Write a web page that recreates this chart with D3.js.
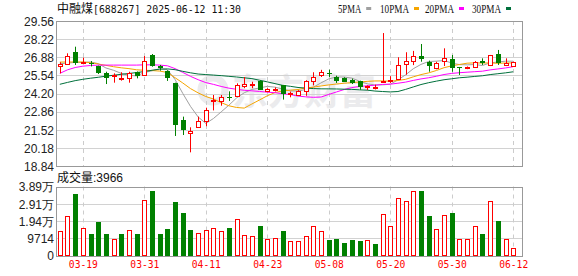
<!DOCTYPE html>
<html>
<head>
<meta charset="utf-8">
<script src="https://cdn.jsdelivr.net/npm/d3@7"></script>
<style>
  body { margin: 0; background: #fff; }
  svg { display: block; }
</style>
</head>
<body>
<svg></svg>
<script>
// K线数据 (读自图片)
var dates = ["03-14","03-17","03-18","03-19","03-20","03-21","03-24","03-25","03-26","03-27","03-28","03-31",
  "04-01","04-02","04-03","04-07","04-08","04-09","04-10","04-11","04-14","04-15","04-16","04-17","04-18",
  "04-21","04-22","04-23","04-24","04-25","04-28","04-29","04-30","05-06","05-07","05-08","05-09","05-12",
  "05-13","05-14","05-15","05-16","05-19","05-20","05-21","05-22","05-23","05-26","05-27","05-28","05-29",
  "05-30","06-03","06-04","06-05","06-06","06-09","06-10","06-11","06-12"];

var opens  = [26.25,26.36,27.27,26.45,26.45,26.23,25.74,25.50,25.30,25.32,25.81,25.57,27.05,26.25,25.89,25.00,
  22.24,21.30,21.75,22.17,23.63,23.67,23.95,24.04,24.72,24.86,25.10,24.40,24.45,24.80,24.15,24.07,24.36,25.10,
  25.55,25.75,25.40,25.38,25.22,25.10,24.66,24.65,25.06,25.15,25.30,26.38,26.63,26.99,26.55,26.06,26.63,26.75,
  26.16,26.06,26.18,26.63,26.31,27.12,26.31,26.26];
var highs  = [26.51,27.17,27.66,26.85,26.60,26.26,25.81,25.69,25.77,25.81,25.83,26.97,27.12,26.31,25.92,25.00,
  22.49,21.70,22.49,23.15,24.09,24.09,24.36,24.95,25.42,25.07,25.18,24.59,24.65,24.83,24.34,24.45,25.18,25.77,
  25.95,25.96,25.52,25.40,25.30,25.15,24.80,24.85,28.67,25.48,26.88,27.25,27.35,27.86,26.63,26.55,27.54,27.05,
  26.16,26.20,26.60,26.80,27.05,27.42,26.80,26.55];
var lows   = [25.69,26.31,26.31,26.43,26.20,25.64,24.90,25.00,25.15,25.00,25.32,25.50,26.18,25.89,25.13,21.06,
  21.13,19.85,21.70,21.78,22.95,23.30,23.65,23.97,24.59,24.59,24.48,24.29,24.35,23.75,23.92,24.02,24.03,24.80,
  25.42,25.42,24.98,25.05,24.90,24.48,24.45,24.50,24.98,24.98,25.22,25.59,26.30,26.55,25.81,25.99,26.23,25.81,
  25.57,26.00,26.12,26.31,26.23,26.31,26.23,26.26];
var closes = [26.36,26.97,26.43,26.50,26.40,25.74,25.37,25.57,25.35,25.69,25.52,26.60,26.23,26.10,25.37,21.87,
  21.48,21.44,22.17,22.98,23.70,23.92,23.90,24.85,24.90,24.93,24.46,24.50,24.55,24.20,24.24,24.41,25.10,25.40,
  25.79,25.70,25.12,25.08,24.98,24.68,24.72,24.70,25.13,25.20,26.29,26.58,26.96,26.73,26.26,26.43,26.80,26.06,
  26.12,26.18,26.55,26.43,27.05,26.43,26.48,26.55];
var volumes = [13600,22100,34800,15700,11900,18900,11900,9450,11900,14600,11900,31000,36300,11900,14750,30100,
  24000,14200,12900,14600,15700,13600,15300,20800,11700,11150,16450,9450,10000,13600,7950,7950,11150,16800,
  14000,8500,9070,6800,8500,8100,8500,6250,23300,16450,32150,30600,36300,36300,22100,14750,22700,24000,9450,
  9450,16450,11900,30600,19300,9070,3966];

// 均线起始段 (窗口未满之前, 读自图片)
var ma5Head  = [26.40,26.45,26.50,26.50];
var ma10Head = [26.52,26.53,26.53,26.53,26.48,26.38,26.28,26.18,26.10];
var ma20Head = [25.69,25.95,26.12,26.22,26.27,26.30,26.30,26.30,26.30,26.30,26.30,26.32,26.32,26.30,26.25,
  26.04,25.76,25.47,25.22];
var ma30Head = [24.88,25.02,25.15,25.25,25.33,25.40,25.48,25.55,25.62,25.68,25.75,25.82,25.92,26.00,26.02,
  25.96,25.84,25.73,25.64,25.60,25.56,25.52,25.47,25.42,25.36,25.30,25.18,25.06,24.93];

var priceTicks = [29.56, 28.22, 26.88, 25.54, 24.20, 22.86, 21.52, 20.18, 18.84];
var volTicks = [0, 9714, 19428, 29142, 38856];
var volTickLabels = ["0", "9714", "1.94万", "2.91万", "3.89万"];
var dateTicks = ["03-19","03-31","04-11","04-23","05-08","05-20","05-30","06-12"];
var maPeriods = [5, 10, 20, 30];
var maHeads = [ma5Head, ma10Head, ma20Head, ma30Head];
var maColors = ["#a0a0a0", "#f5a500", "#ff00ff", "#00703c"];

var width = 578, height = 276;
var left = 56, right = 522;
var pTop = 21, pBottom = 166, vTop = 186.5, vBottom = 255.5;
var red = "#ff0000", green = "#008000";

var svg = d3.select("svg").attr("width", width).attr("height", height);

var x = d3.scalePoint().domain(dates).range([59.8, 513.2]);
var y = d3.scaleLinear().domain([18.84, 29.56]).range([pBottom, pTop]);
var yv = d3.scaleLinear().domain([0, 38856]).range([vBottom, vTop]);

function px(v) { return Math.round(v) + 0.5; }

// 水印
var wm = svg.append("g").attr("fill", "#ebebed");
wm.append("circle").attr("cx", 213).attr("cy", 90).attr("r", 12)
  .attr("fill", "none").attr("stroke", "#ebebed").attr("stroke-width", 7);
wm.append("text").attr("x", 232).attr("y", 105)
  .attr("font-family", "Noto Sans CJK SC").attr("font-weight", "bold")
  .attr("font-size", 36).text("东方财富");

// 网格
var grid = svg.append("g");
grid.selectAll("line.h").data(priceTicks.slice(1, -1)).join("line")
  .attr("x1", left).attr("x2", right)
  .attr("y1", function (d) { return px(y(d)); })
  .attr("y2", function (d) { return px(y(d)); })
  .attr("stroke", "#d2d2d2");
grid.selectAll("line.hv").data(volTicks.slice(1, -1)).join("line")
  .attr("x1", left).attr("x2", right)
  .attr("y1", function (d) { return px(yv(d)); })
  .attr("y2", function (d) { return px(yv(d)); })
  .attr("stroke", "#d2d2d2");
[[pTop, pBottom], [vTop, vBottom]].forEach(function (r) {
  grid.append("g").selectAll("line").data(dateTicks).join("line")
    .attr("x1", function (d) { return px(x(d)); })
    .attr("x2", function (d) { return px(x(d)); })
    .attr("y1", r[0]).attr("y2", r[1])
    .attr("stroke", "#cccccc").attr("stroke-dasharray", "4,4");
});

// 均线
var line = d3.line()
  .x(function (d, i) { return x(dates[i]); })
  .y(function (d) { return y(d); });
maPeriods.forEach(function (n, k) {
  var vals = closes.map(function (c, i) {
    return i < n - 1 ? maHeads[k][i] : d3.mean(closes.slice(i - n + 1, i + 1));
  });
  svg.append("path").datum(vals).attr("d", line)
    .attr("fill", "none").attr("stroke", maColors[k]).attr("stroke-width", 1);
});

// K线
var idx = d3.range(dates.length);
var candles = svg.append("g").selectAll("g").data(idx).join("g");
function isUp(i) { return closes[i] >= opens[i]; }
candles.append("line")
  .attr("x1", function (i) { return Math.round(x(dates[i])) + 0.5; })
  .attr("x2", function (i) { return Math.round(x(dates[i])) + 0.5; })
  .attr("y1", function (i) { return y(highs[i]); })
  .attr("y2", function (i) { return y(lows[i]); })
  .attr("stroke", function (i) { return isUp(i) ? red : green; });
candles.append("rect")
  .attr("x", function (i) { return Math.round(x(dates[i])) - (isUp(i) ? 1.5 : 2); })
  .attr("width", function (i) { return isUp(i) ? 4 : 5; })
  .attr("y", function (i) {
    var t = Math.round(y(Math.max(opens[i], closes[i])));
    return isUp(i) ? t + 0.5 : t;
  })
  .attr("height", function (i) {
    var t = Math.round(y(Math.max(opens[i], closes[i])));
    var b = Math.round(y(Math.min(opens[i], closes[i])));
    return Math.max(b - t, 1);
  })
  .attr("fill", function (i) { return isUp(i) ? "#fff" : green; })
  .attr("stroke", function (i) { return isUp(i) ? red : "none"; });

// 成交量
function volUp(i) { return i === 0 ? closes[0] >= opens[0] : closes[i] >= closes[i - 1]; }
svg.append("g").selectAll("rect").data(idx).join("rect")
  .attr("x", function (i) { return Math.round(x(dates[i])) - (volUp(i) ? 1.5 : 2); })
  .attr("width", function (i) { return volUp(i) ? 4 : 5; })
  .attr("y", function (i) { return Math.round(yv(volumes[i])) + (volUp(i) ? 0.5 : 0); })
  .attr("height", function (i) { return Math.round(vBottom) - Math.round(yv(volumes[i])) - (volUp(i) ? 1 : 0); })
  .attr("fill", function (i) { return volUp(i) ? "#fff" : green; })
  .attr("stroke", function (i) { return volUp(i) ? red : "none"; });

// 边框
[[pTop, pBottom], [vTop, vBottom]].forEach(function (r) {
  svg.append("rect").attr("x", left + 0.5).attr("y", Math.round(r[0]) + 0.5)
    .attr("width", right - left).attr("height", Math.round(r[1]) - Math.round(r[0]))
    .attr("fill", "none").attr("stroke", "#999");
});

// 坐标轴
var yAxis = svg.append("g").attr("transform", "translate(" + (left - 2) + ",0)")
  .call(d3.axisLeft(y).tickValues(priceTicks).tickSize(0).tickFormat(d3.format(".2f")));
var vAxis = svg.append("g").attr("transform", "translate(" + (left - 2) + ",0)")
  .call(d3.axisLeft(yv).tickValues(volTicks).tickSize(0)
    .tickFormat(function (d, i) { return volTickLabels[i]; }));
[yAxis, vAxis].forEach(function (g) {
  g.select(".domain").remove();
  g.selectAll("text").attr("font-family", "Liberation Sans, Arial, sans-serif")
    .attr("font-size", 12).attr("fill", "#222").attr("x", 0).attr("dy", "0.36em");
});

var xAxis = svg.append("g").attr("transform", "translate(0," + 258 + ")")
  .call(d3.axisBottom(x).tickValues(dateTicks).tickSize(0));
xAxis.select(".domain").remove();
xAxis.selectAll("text").attr("font-family", "DejaVu Sans Mono, monospace")
  .attr("font-size", 11).attr("fill", red).attr("y", 0).attr("dy", "0.95em")
  .attr("textLength", 29).attr("lengthAdjust", "spacingAndGlyphs");

// 标题
var title = svg.append("text").attr("x", 57).attr("y", 13).attr("fill", "#111");
title.append("tspan").attr("font-family", "Noto Sans CJK SC").attr("font-size", 12).text("中融煤");
title.append("tspan").attr("font-family", "DejaVu Sans Mono, monospace").attr("font-size", 11)
  .attr("textLength", 148).attr("lengthAdjust", "spacingAndGlyphs")
  .text("[688267] 2025-06-12 11:30");

// 图例
var legendX = [338, 380, 425, 472];
var legend = svg.append("g").selectAll("g").data(maNames = ["5PMA", "10PMA", "20PMA", "30PMA"]).join("g")
  .attr("transform", function (d, i) { return "translate(" + legendX[i] + ",0)"; });
legend.append("text").attr("y", 13)
  .attr("font-family", "Liberation Serif, serif").attr("font-size", 12).attr("fill", "#111")
  .attr("textLength", function (d) { return d.length * 5.8; })
  .attr("lengthAdjust", "spacingAndGlyphs").text(function (d) { return d; });
legend.append("rect").attr("x", function (d) { return d.length * 5.8 + 5; })
  .attr("y", 7).attr("width", 5).attr("height", 3)
  .attr("fill", function (d, i) { return maColors[i]; });

// 成交量标签
var vl = svg.append("text").attr("x", 57).attr("y", 182).attr("fill", "#111").attr("font-size", 12);
vl.append("tspan").attr("font-family", "Noto Sans CJK SC").text("成交量");
vl.append("tspan").attr("font-family", "Liberation Sans, Arial, sans-serif").text(":" + volumes[volumes.length - 1]);
</script>
</body>
</html>
